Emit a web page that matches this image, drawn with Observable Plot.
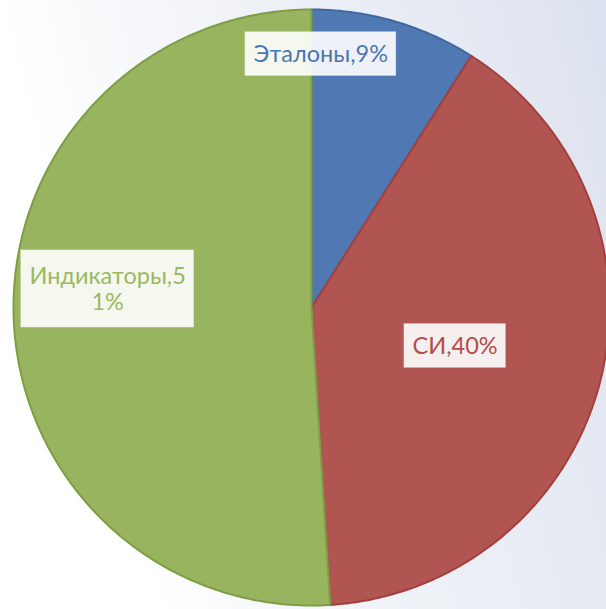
<!DOCTYPE html>
<html>
<head>
<meta charset="utf-8">
<script src="https://cdn.jsdelivr.net/npm/d3@7"></script>
<script src="https://cdn.jsdelivr.net/npm/@observablehq/plot@0.6"></script>
<style>
  html, body { margin: 0; padding: 0; background: #fff; }
  #chart svg { display: block; }
</style>
</head>
<body>
<div id="chart"></div>
<script>
// ---- data ----
const categories = ["Эталоны", "СИ", "Индикаторы"];
const values = [9, 40, 51];
const labels = ["Эталоны,9%", "СИ,40%", "Индикаторы,5\n1%"];

// ---- styles / layout ----
const fills = ["#5079b3", "#b05552", "#98b45e"];
const strokes = ["#3f68a3", "#a2403d", "#7f9d44"];
const textColors = ["#4a76b1", "#b24f4c", "#9cb862"];
const labelRadius = [0.851, 0.499, 0.687];   // fraction of radius
const labelShift = [-14.1, 0.6, 7.0];        // degrees from slice mid angle
const FONT_SIZE = 23.5, FONT = "Lato", LINE_H = 1.08;
const PAD_X = 8, PAD_Y = 9;

const W = 606, H = 609, cx = 311, cy = 307, R = 298;

const total = d3.sum(values);
let acc = 0;
const slices = categories.map((c, i) => {
  const a0 = acc / total * 360;
  acc += values[i];
  const a1 = acc / total * 360;
  return {name: c, i, a0, a1, mid: (a0 + a1) / 2};
});

const rad = (deg) => deg * Math.PI / 180;
function slicePoints(s) {
  const pts = [{x: 0, y: 0}];
  const n = Math.max(2, Math.ceil((s.a1 - s.a0) / 0.5));
  for (let k = 0; k <= n; k++) {
    const a = rad(s.a0 + (s.a1 - s.a0) * k / n);
    pts.push({x: Math.sin(a), y: Math.cos(a)});
  }
  pts.push({x: 0, y: 0});
  return pts;
}

// measure label text to size its box
const ctx = document.createElement("canvas").getContext("2d");
ctx.font = `${FONT_SIZE}px ${FONT}`;

const labelData = slices.map((s) => {
  const a = rad(s.mid + labelShift[s.i]);
  const lines = labels[s.i].split("\n");
  const wPx = d3.max(lines, (l) => ctx.measureText(l).width) + 2 * PAD_X;
  const hPx = lines.length * FONT_SIZE * LINE_H + 2 * PAD_Y + (lines.length - 1) * 8;
  const x = labelRadius[s.i] * Math.sin(a);
  const y = labelRadius[s.i] * Math.cos(a);
  return {
    text: labels[s.i],
    x, y,
    x1: x - wPx / 2 / R, x2: x + wPx / 2 / R,
    y1: y - hPx / 2 / R, y2: y + hPx / 2 / R,
    color: textColors[s.i]
  };
});

const sliceMarks = slices.map((s) =>
  Plot.line(slicePoints(s), {
    x: "x", y: "y",
    fill: fills[s.i],
    stroke: strokes[s.i],
    strokeWidth: 2,
    strokeLinejoin: "round",
    curve: "linear"
  })
);

const chart = Plot.plot({
  width: W,
  height: H,
  margin: 0,
  x: {domain: [-1, 1], range: [cx - R, cx + R], axis: null},
  y: {domain: [-1, 1], range: [cy + R, cy - R], axis: null},
  style: {
    background: "linear-gradient(75deg, #ffffff 20%, #eef1f6 54%, #e6eaf3 79%, #dbe1ee 100%)",
    overflow: "hidden"
  },
  marks: [
    ...sliceMarks,
    Plot.rect(labelData, {
      x1: "x1", x2: "x2", y1: "y1", y2: "y2",
      fill: "white",
      fillOpacity: 0.9,
      stroke: "white",
      strokeOpacity: 0.6
    }),
    Plot.text(labelData, {
      x: "x", y: "y",
      text: "text",
      fill: (d) => d.color,
      fontSize: FONT_SIZE,
      fontFamily: FONT,
      lineHeight: LINE_H,
      textAnchor: "middle",
      lineAnchor: "middle"
    })
  ]
});
chart.style.fontFamily = FONT;
document.getElementById("chart").appendChild(chart);
</script>
</body>
</html>
